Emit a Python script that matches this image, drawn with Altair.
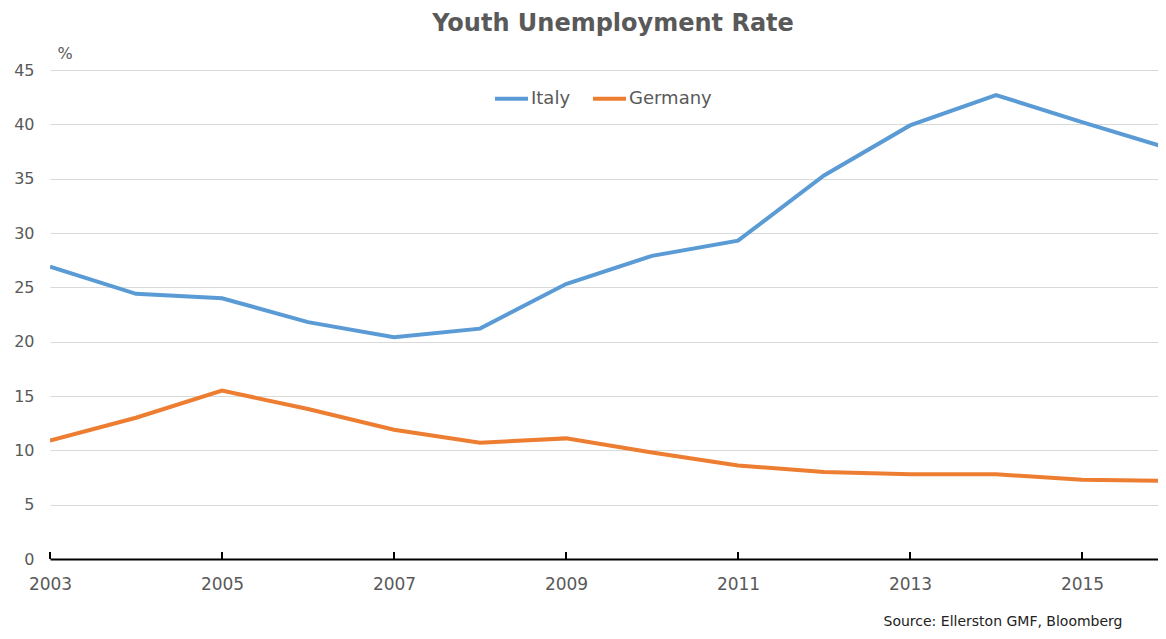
import altair as alt
import pandas as pd

years = list(range(2003, 2017))
italy = [26.9, 24.4, 24.0, 21.8, 20.4, 21.2, 25.3, 27.9, 29.3, 35.3, 39.9, 42.7, 40.2, 37.8]
germany = [10.9, 13.0, 15.5, 13.8, 11.9, 10.7, 11.1, 9.8, 8.6, 8.0, 7.8, 7.8, 7.3, 7.2]
series = ["Italy", "Germany"]
colors = ["#5B9BD5", "#ED7D31"]
x_ticks = [2003, 2005, 2007, 2009, 2011, 2013, 2015]
y_ticks = [0, 5, 10, 15, 20, 25, 30, 35, 40, 45]

rows = []
for y, a, b in zip(years, italy, germany):
    rows.append({"year": y, "series": "Italy", "rate": a})
    rows.append({"year": y, "series": "Germany", "rate": b})
df = pd.DataFrame(rows)
ticks_df = pd.DataFrame({"year": x_ticks})

PX_PER_YEAR = 86
W = 1108
H = 489
GREY = "#595959"
FONT = "DejaVu Sans"

x_scale = alt.Scale(domain=[2003, 2003 + W / PX_PER_YEAR], nice=False, zero=False)
y_scale = alt.Scale(domain=[0, 45], nice=False)

lines = alt.Chart(df).mark_line(strokeWidth=4, clip=True).encode(
    x=alt.X("year:Q", scale=x_scale,
            axis=alt.Axis(values=x_ticks, format="d", grid=False, ticks=False, tickSize=0,
                          domainColor="#000000", domainWidth=2, labelFlush=False,
                          labelFont=FONT, labelFontSize=17, labelColor=GREY, labelPadding=17,
                          title="Source: Ellerston GMF, Bloomberg",
                          titleFont=FONT, titleFontSize=14, titleFontWeight="normal",
                          titleColor="#222222", titleAnchor="end", titleAlign="right",
                          titleX=1072, titleY=62, titleBaseline="middle")),
    y=alt.Y("rate:Q", scale=y_scale,
            axis=alt.Axis(values=y_ticks, grid=True, gridColor="#d9d9d9", gridWidth=1,
                          domain=False, ticks=False, tickSize=0,
                          labelFont=FONT, labelFontSize=16, labelColor=GREY, labelPadding=16,
                          title="%", titleAngle=0, titleFont=FONT, titleFontSize=16,
                          titleFontWeight="normal", titleColor=GREY, titleAlign="left",
                          titleX=7, titleY=-17, titleBaseline="middle")),
    color=alt.Color("series:N", sort=series,
                    scale=alt.Scale(domain=series, range=colors),
                    legend=alt.Legend(title=None, orient="none", direction="horizontal",
                                      legendX=443, legendY=10,
                                      symbolType="stroke", symbolStrokeWidth=4, symbolSize=1089,
                                      labelFont=FONT, labelFontSize=18, labelColor=GREY,
                                      labelOffset=1, columnPadding=14)),
    order=alt.Order("year:Q"),
)

tick_marks = alt.Chart(ticks_df).mark_rule(color="#000000", strokeWidth=2).encode(
    x=alt.X("year:Q", scale=x_scale),
    y=alt.value(H),
    y2=alt.value(H - 7),
)

chart = alt.layer(lines, tick_marks).properties(
    width=W, height=H,
    title=alt.TitleParams("Youth Unemployment Rate", font=FONT, fontSize=24, fontWeight="bold",
                          color=GREY, anchor="middle", frame="group", offset=9, dx=9),
    autosize=alt.AutoSizeParams(type="none"),
    padding={"left": 42, "right": 0, "top": 62, "bottom": 72},
).configure_view(stroke=None)

chart.save("out.html", embed_options={"renderer": "svg", "actions": False})
